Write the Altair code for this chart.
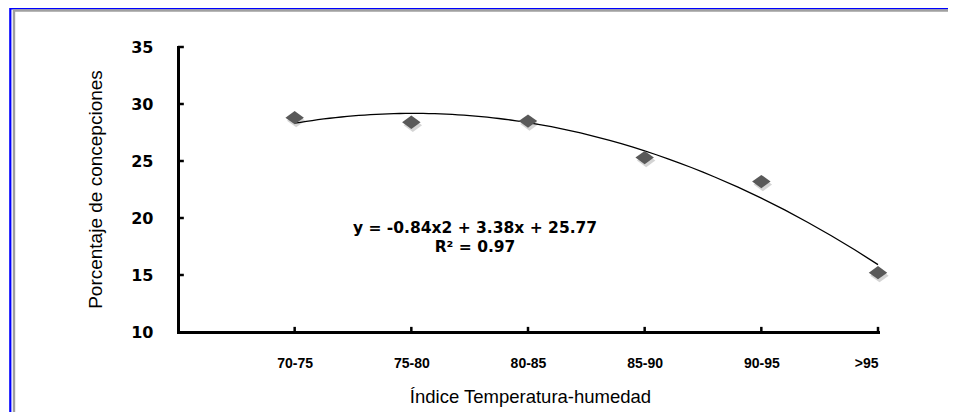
import json
import altair as alt
import pandas as pd

# ---- data ----
categories = ["70-75", "75-80", "80-85", "85-90", "90-95", ">95"]
positions = [1, 2, 3, 4, 5, 6]
values = [28.8, 28.4, 28.5, 25.3, 23.2, 15.2]
y_tick_values = [10, 15, 20, 25, 30, 35]
y_inner_ticks = [15, 20, 25, 30, 35]
equation_lines = ["y = -0.84x2 + 3.38x + 25.77", "R\u00b2 = 0.97"]

df = pd.DataFrame({"pos": positions, "val": values, "cat": categories})
label_expr = json.dumps(categories) + "[datum.value - 1]"

xscale = alt.Scale(domain=[0, 6], nice=False, zero=False)
yscale = alt.Scale(domain=[10, 35], nice=False, zero=False)

x_axis = alt.Axis(
    values=positions, labelExpr=label_expr, title="\u00cdndice Temperatura-humedad",
    grid=False, ticks=False, tickSize=0, labelPadding=24,
    labelFont="Liberation Sans", labelFontWeight="bold", labelFontSize=14, labelColor="black",
    domainColor="black", domainWidth=3, domainCap="square",
    titleFont="Liberation Sans", titleFontSize=18.5, titleFontWeight="normal", titleColor="black",
    titleX=352, titleY=70, titleBaseline="alphabetic", titleAlign="center",
)
y_axis = alt.Axis(
    values=y_tick_values, title="Porcentaje de concepciones",
    grid=False, ticks=False, tickSize=0, labelPadding=25,
    labelFont="DejaVu Sans", labelFontWeight="bold", labelFontSize=16, labelColor="black",
    domainColor="black", domainWidth=3, domainCap="square",
    titleFont="Liberation Sans", titleFontSize=19, titleFontWeight="normal", titleColor="black",
    titleX=-83, titleY=142, titleBaseline="middle", titleAlign="center", titleAngle=270,
)

X = lambda f: alt.X(f, scale=xscale, axis=x_axis, title="\u00cdndice Temperatura-humedad")
Y = lambda f: alt.Y(f, scale=yscale, axis=y_axis, title="Porcentaje de concepciones")

diamond = "M-1,0L0,-0.72L1,0L0,0.72Z"

shadow = alt.Chart(df).mark_point(
    shape=diamond, size=340, filled=True, color="#b0b0b0", opacity=0.55, xOffset=1.5, yOffset=3
).encode(x=X("pos:Q"), y=Y("val:Q"))

points = alt.Chart(df).mark_point(
    shape=diamond, size=340, filled=True, color="#595959", opacity=1
).encode(x=X("pos:Q"), y=Y("val:Q"))

trend = alt.Chart(df).transform_regression(
    "pos", "val", method="poly", order=2
).mark_line(color="black", strokeWidth=1.3).encode(x=X("pos:Q"), y=Y("val:Q"))

# inward tick marks (Excel style)
ytick_df = pd.DataFrame({"pos": [0] * len(y_inner_ticks), "end": [0.05] * len(y_inner_ticks), "val": y_inner_ticks})
yticks = alt.Chart(ytick_df).mark_rule(color="black", strokeWidth=2.5).encode(
    x=X("pos:Q"), x2="end:Q", y=Y("val:Q"),
)

xtick_df = pd.DataFrame({"pos": positions, "val": [10] * 6, "end": [10.45] * 6})
xticks = alt.Chart(xtick_df).mark_rule(color="black", strokeWidth=2.5).encode(
    x=X("pos:Q"), y=Y("val:Q"), y2="end:Q",
)

eq_df = pd.DataFrame({"pos": [2.546], "val": [18.68]})
eq = alt.Chart(eq_df).mark_text(
    font="DejaVu Sans", fontWeight="bold", fontSize=15.5, color="black",
    align="center", baseline="alphabetic", lineHeight=19,
).encode(x=X("pos:Q"), y=Y("val:Q"), text=alt.value(equation_lines))

frame_df = pd.DataFrame({"k": [0]})
frame_blue = alt.Chart(frame_df).mark_rect(
    fill="transparent", stroke="#0000ff", strokeWidth=2.2
).encode(
    x=alt.value(-167.7), x2=alt.value(1000), y=alt.value(-38.6), y2=alt.value(600)
)
frame_gray = alt.Chart(frame_df).mark_rect(
    fill="transparent", stroke="#a0a0a0", strokeWidth=2.4
).encode(
    x=alt.value(-164), x2=alt.value(1000), y=alt.value(-36.5), y2=alt.value(600)
)

chart = alt.layer(
    frame_blue, frame_gray, shadow, trend, points, yticks, xticks, eq
).properties(
    width=700, height=285,
    autosize="none",
    padding={"left": 170, "top": 39, "right": 70, "bottom": 80},
    background="white",
).configure_view(stroke=None)

chart.save("out.html", embed_options={"renderer": "svg", "actions": False})
